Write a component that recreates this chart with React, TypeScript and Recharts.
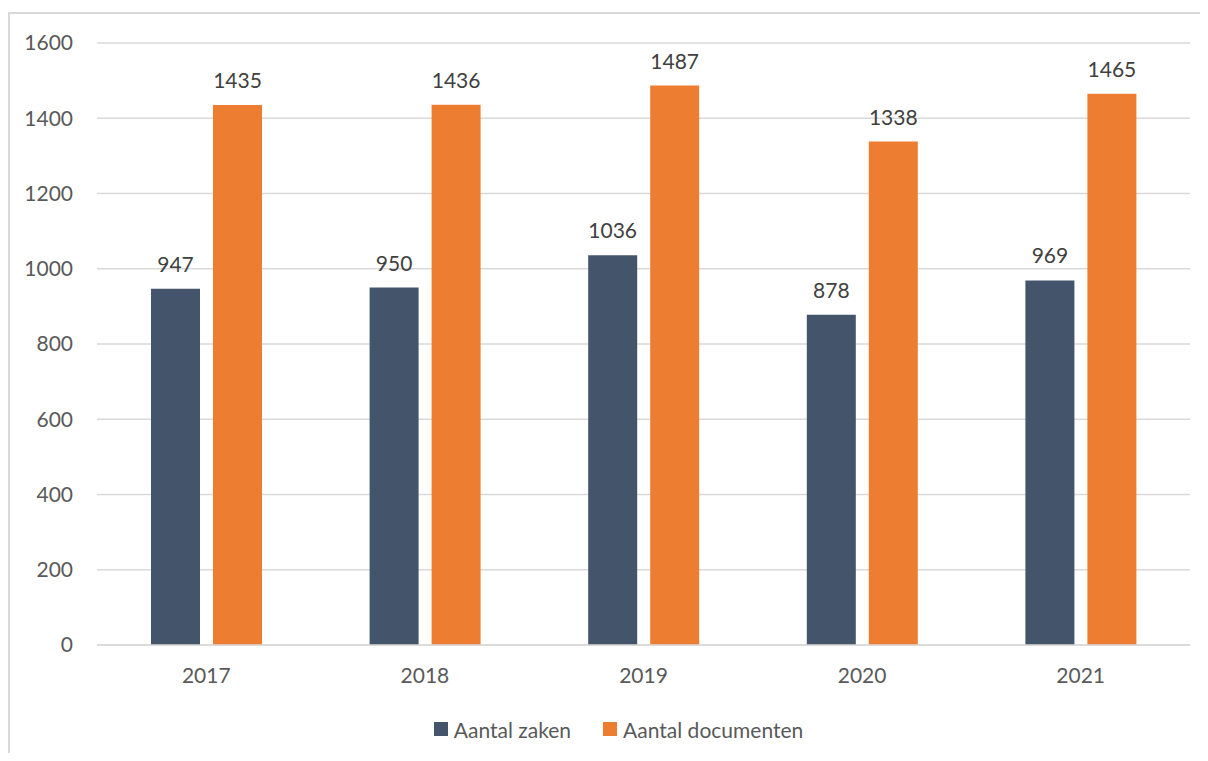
import { type ReactElement } from 'react'
import {
  BarChart,
  Bar,
  XAxis,
  YAxis,
  CartesianGrid,
  Legend,
  LabelList,
} from 'recharts'

const YEARS = ['2017', '2018', '2019', '2020', '2021']
const ZAKEN = [947, 950, 1036, 878, 969]
const DOCUMENTEN = [1435, 1436, 1487, 1338, 1465]
const Y_TICKS = [0, 200, 400, 600, 800, 1000, 1200, 1400, 1600]
const LEGEND_ORDER = ['Aantal zaken', 'Aantal documenten']

const DARK = '#44546A'
const ORANGE = '#ED7D31'
const GRID = '#D9D9D9'
const TEXT = '#595959'
const FONT = "Lato, 'Open Sans', sans-serif"

const data = YEARS.map((year, i) => ({
  year,
  zaken: ZAKEN[i],
  documenten: DOCUMENTEN[i],
}))

function ChartLegend({ payload }: { payload?: any[] }): ReactElement {
  const items = [...(payload ?? [])].sort(
    (a, b) => LEGEND_ORDER.indexOf(a.value) - LEGEND_ORDER.indexOf(b.value),
  )
  return (
    <div
      style={{
        display: 'flex',
        justifyContent: 'center',
        alignItems: 'center',
        height: 30,
        width: 1221,
        fontFamily: FONT,
        fontSize: 21,
        color: TEXT,
      }}
    >
      {items.map((item) => (
        <div
          key={item.value}
          style={{ display: 'flex', alignItems: 'center', margin: '0 16px' }}
        >
          <span
            style={{
              display: 'inline-block',
              width: 14,
              height: 14,
              background: item.color,
              marginRight: 6,
            }}
          />
          <span>{item.value}</span>
        </div>
      ))}
    </div>
  )
}

export default function App(): ReactElement {
  return (
    <div style={{ position: 'relative', width: 1200, height: 745 }}>
      <div
        style={{
          position: 'absolute',
          top: 4,
          left: 0,
          width: 1198,
          height: 747,
          borderTop: `2px solid ${GRID}`,
          borderLeft: `2px solid ${GRID}`,
        }}
      />
      <div style={{ position: 'absolute', top: 0, left: 0 }}>
        <BarChart
          width={1200}
          height={745}
          data={data}
          margin={{ top: 35, right: 18, bottom: 48, left: 0 }}
          barSize={49}
          barGap={13}
          style={{ fontFamily: FONT }}
        >
          <CartesianGrid vertical={false} stroke={GRID} strokeWidth={1.5} />
          <XAxis
            dataKey="year"
            tickLine={false}
            axisLine={{ stroke: GRID, strokeWidth: 1.5 }}
            tickMargin={17}
            tick={{ fill: TEXT, fontSize: 21 }}
          />
          <YAxis
            width={89}
            domain={[0, 1600]}
            ticks={Y_TICKS}
            axisLine={false}
            tickLine={false}
            tickMargin={18}
            tick={{ fill: TEXT, fontSize: 21 }}
          />
          <Legend
            verticalAlign="bottom"
            content={<ChartLegend />}
            wrapperStyle={{ bottom: 9, left: 0, width: 1221, height: 30 }}
          />
          <Bar dataKey="zaken" name="Aantal zaken" fill={DARK} isAnimationActive={false}>
            <LabelList dataKey="zaken" position="top" offset={17} fill="#404040" fontSize={21} />
          </Bar>
          <Bar
            dataKey="documenten"
            name="Aantal documenten"
            fill={ORANGE}
            isAnimationActive={false}
          >
            <LabelList
              dataKey="documenten"
              position="top"
              offset={17}
              fill="#404040"
              fontSize={21}
            />
          </Bar>
        </BarChart>
      </div>
    </div>
  )
}
